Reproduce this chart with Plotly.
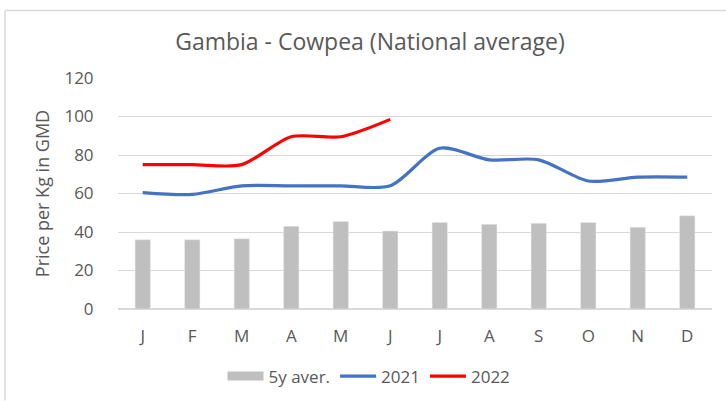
import plotly.graph_objects as go

months = ["J", "F", "M", "A", "M", "J", "J", "A", "S", "O", "N", "D"]
x_idx = list(range(12))
avg_5y = [36, 36, 36.5, 43, 45.5, 40.5, 45, 44, 44.5, 45, 42.5, 48.5]
y2021 = [60.5, 59.5, 64, 64, 64, 64, 83.5, 77.5, 77.5, 66.5, 68.5, 68.5]
y2022 = [75, 75, 75, 89.5, 89.5, 98.5]

W, H = 726, 401
L, R, T, B = 118, 712, 77.7, 309.3

font = "Open Sans"
grey_txt = "#595959"
bar_col = "#BFBFBF"

fig = go.Figure()
fig.add_trace(go.Bar(x=x_idx, y=avg_5y, name="5y aver.", marker_color=bar_col, showlegend=False,
                     legendgroup="avg"))
# legend entry for the bars, drawn as a wide grey swatch like the original
fig.add_trace(go.Scatter(x=[None], y=[None], name="5y aver.", mode="lines", legendgroup="avg",
                         line=dict(color=bar_col, width=9)))
fig.add_trace(go.Scatter(x=x_idx, y=y2021, name="2021", mode="lines",
                         line=dict(color="#4472C4", width=3.2, shape="spline", smoothing=0.8)))
fig.add_trace(go.Scatter(x=x_idx[:len(y2022)], y=y2022, name="2022", mode="lines",
                         line=dict(color="#FF0000", width=3.2, shape="spline", smoothing=0.8)))

def px_x(p):
    return (p - L) / (R - L)

def px_y(p):
    return (B - p) / (B - T)

border = "#D9D9D9"
fig.add_shape(type="line", xref="paper", yref="paper", x0=px_x(5), x1=px_x(726), y0=px_y(10), y1=px_y(10),
              line=dict(color=border, width=1.5))
fig.add_shape(type="line", xref="paper", yref="paper", x0=px_x(5), x1=px_x(5), y0=px_y(10), y1=px_y(401),
              line=dict(color=border, width=1.5))

fig.update_layout(
    width=W, height=H,
    margin=dict(l=L, r=W - R, t=T, b=H - B, autoexpand=False),
    paper_bgcolor="white", plot_bgcolor="white",
    bargap=0.69,
    title=dict(text="Gambia - Cowpea (National average)", x=370 / W, xanchor="center",
               y=1 - 42 / H, yanchor="middle",
               font=dict(family=font, size=23, color=grey_txt)),
    font=dict(family=font, color=grey_txt),
    showlegend=True,
    legend=dict(orientation="h", x=px_x(369), xanchor="center", y=px_y(377), yanchor="middle",
                font=dict(family=font, size=17, color=grey_txt), itemwidth=36, tracegroupgap=0),
    xaxis=dict(tickmode="array", tickvals=x_idx, ticktext=months, range=[-0.5, 11.5],
               showgrid=False, showline=True, linecolor="#D9D9D9", linewidth=1,
               ticks="outside", ticklen=12, tickcolor="rgba(0,0,0,0)", automargin=False,
               tickfont=dict(family=font, size=17, color=grey_txt), fixedrange=True),
    yaxis=dict(range=[0, 120], dtick=20, showgrid=True, gridcolor="#D9D9D9", gridwidth=1,
               zeroline=True, zerolinecolor="#D9D9D9", automargin=False,
               ticks="outside", ticklen=20, tickcolor="rgba(0,0,0,0)",
               tickfont=dict(family=font, size=17, color=grey_txt),
               title=dict(text="Price per Kg in GMD", font=dict(family=font, size=18, color=grey_txt),
                          standoff=10)),
)

fig.write_html("out.html", post_script="document.body.style.margin='0';",
               config={"displayModeBar": False})
